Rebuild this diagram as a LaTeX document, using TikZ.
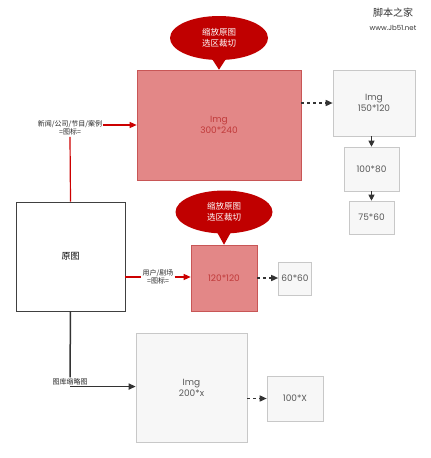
\documentclass[tikz,border=0pt]{standalone}
\usepackage{fontspec}
\setmainfont{Poppins}
\newfontfamily\cjk{Noto Sans CJK SC}
\usetikzlibrary{shapes.callouts,arrows.meta,positioning}
\definecolor{boxred}{HTML}{E38787}
\definecolor{edgered}{HTML}{C85656}
\definecolor{textred}{HTML}{C03A3A}
\definecolor{bubblered}{HTML}{C00000}
\definecolor{lightgray}{HTML}{F7F7F7}
\definecolor{edgegray}{HTML}{C8C8C8}

\begin{document}
\begin{tikzpicture}[x=1pt,y=-1pt,semithick,
	redbox/.style={draw=edgered,fill=boxred,text=textred,font=\fontsize{9}{11}\selectfont,align=center,inner sep=0pt},
	greybox/.style={draw=edgegray,fill=lightgray,text=black!65,font=\fontsize{9}{11}\selectfont,align=center,inner sep=0pt},
	origbox/.style={draw=black!75,fill=white,inner sep=0pt},
	bubble/.style={ellipse callout,fill=bubblered,text=white,font=\cjk\fontsize{8.5}{11}\selectfont,align=center,inner sep=0pt},
	tag/.style={font=\cjk\fontsize{7}{8.5}\selectfont,align=center,inner sep=1pt,text=black!85},
	redline/.style={draw=red!80!black,line width=1.2pt},
	blackline/.style={draw=black!80,line width=1.5pt},
	tip/.style={-{Triangle[length=7pt,width=6pt]}},
	dots/.style={draw=black!80,line width=1.5pt,dash pattern=on 3pt off 3pt,-{Triangle[length=7pt,width=6pt]}}]
	\useasboundingbox (0,0) rectangle (431,458);

	% boxes
	\node[origbox,minimum width=109,minimum height=109] (orig) at (70.5,256.5) {\cjk\fontsize{9}{11}\selectfont 原图};
	\node[redbox,minimum width=164,minimum height=110] (big) at (219,125) {Img\\300*240};
	\node[redbox,minimum width=66,minimum height=66] (small) at (224,278) {120*120};
	\node[greybox,minimum width=33,minimum height=33] (s60) at (295,278.5) {60*60};
	\node[greybox,minimum width=82,minimum height=66] (s150) at (374,103) {Img\\150*120};
	\node[greybox,minimum width=55,minimum height=44] (s100) at (371.5,169) {100*80};
	\node[greybox,minimum width=45,minimum height=33] (s75) at (371.5,217.5) {75*60};
	\node[greybox,minimum width=111,minimum height=109] (wide) at (191.5,387.5) {Img\\200*x};
	\node[greybox,minimum width=56,minimum height=45] (s100x) at (295,398.5) {100*X};

	% bubbles
	\node[bubble,minimum width=98,minimum height=44,callout absolute pointer={(big.north)}] (cut1) at (219,38) {缩放原图\\选区裁切};
	\node[bubble,minimum width=97,minimum height=43,callout absolute pointer={(small.north)}] (cut2) at (224,212) {缩放原图\\选区裁切};

	% labels
	\node[tag] (lab1) at (70,128) {新闻/公司/节目/案例\\=图标=};
	\node[tag] (lab2) at (158,277) {用户/剧场\\=图标=};
	\node[tag] (lab3) at (70,382) {图库缩略图};

	% connectors
	\draw[redline] (orig.north) -- (lab1.south);
	\draw[redline,tip] ([yshift=3pt]lab1.east) -- ([yshift=3pt]lab1.east -| big.west);
	\draw[redline] (orig.east |- lab2.west) -- (lab2.west);
	\draw[redline,tip] (lab2.east) -- (lab2.east -| small.west);
	\draw[blackline] (orig.south) -- (lab3.north);
	\draw[blackline,tip] (lab3.south) -- (lab3.south -| wide.west);
	\draw[dots] ([yshift=22pt]big.east) -- ([yshift=22pt]big.east -| s150.west);
	\draw[dots] (small.east) -- (small.east -| s60.west);
	\draw[dots] ([yshift=-11pt]wide.east) -- ([yshift=-11pt]wide.east -| s100x.west);
	\draw[black!80,line width=1pt,-{Triangle[length=6pt,width=6pt]}] (s150.south -| s100.north) -- (s100.north);
	\draw[black!80,line width=1pt,-{Triangle[length=6pt,width=6pt]}] (s100.south) -- (s75.north);

	% watermark
	\node[font=\cjk\fontsize{10}{12}\selectfont,text=black!80] (mark) at (393,13) {脚本之家};
	\node[font=\fontsize{7}{9}\selectfont,text=black!80,below=0pt of mark] (site) {www.Jb51.net};
\end{tikzpicture}
\end{document}
